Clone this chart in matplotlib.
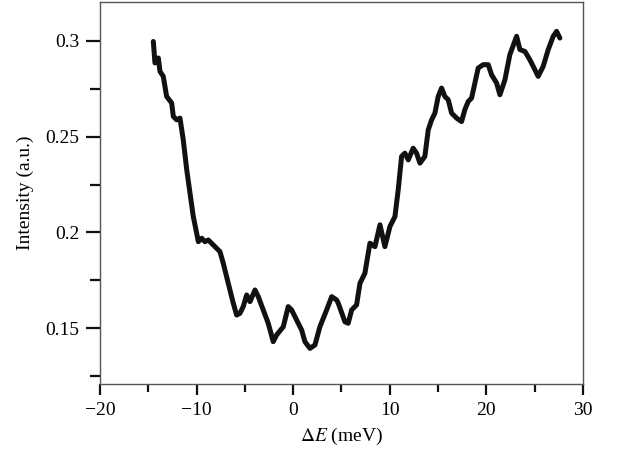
import numpy as np
import matplotlib
matplotlib.use("Agg")
import matplotlib.pyplot as plt
from matplotlib.ticker import MultipleLocator

# Energy transfer (meV) and intensity (a.u.)
delta_e = [-14.48, -14.31, -13.96, -13.79, -13.45, -13.10, -12.58, -12.41, -12.06, -11.72,
           -11.38, -11.02, -10.68, -10.34, -9.99, -9.82, -9.47, -9.13, -8.79, -8.27,
           -7.58, -7.24, -6.72, -6.20, -5.85, -5.51, -5.17, -4.81, -4.47, -3.95,
           -3.61, -3.10, -2.58, -2.06, -1.71, -1.02, -0.51, -0.16, 0.36, 0.88,
           1.22, 1.74, 2.26, 2.77, 3.47, 3.99, 4.50, 4.67, 5.36, 5.70,
           6.06, 6.57, 6.92, 7.43, 7.95, 8.47, 8.99, 9.50, 10.02, 10.54,
           10.88, 11.23, 11.57, 11.92, 12.43, 12.78, 13.13, 13.64, 13.99, 14.34,
           14.68, 15.02, 15.37, 15.71, 16.06, 16.41, 16.93, 17.44, 17.78, 18.13,
           18.48, 18.82, 19.16, 19.68, 20.20, 20.55, 21.07, 21.41, 21.93, 22.44,
           23.14, 23.48, 24.00, 24.51, 25.03, 25.37, 25.89, 26.41, 26.93, 27.28,
           27.62]
intensity = [0.2997, 0.2885, 0.2911, 0.2841, 0.2815, 0.2710, 0.2676, 0.2606, 0.2588, 0.2597,
             0.2484, 0.2327, 0.2205, 0.2083, 0.1996, 0.1952, 0.1970, 0.1952, 0.1961, 0.1935,
             0.1900, 0.1840, 0.1735, 0.1631, 0.1569, 0.1578, 0.1613, 0.1674, 0.1639, 0.1700,
             0.1665, 0.1596, 0.1526, 0.1430, 0.1465, 0.1508, 0.1613, 0.1596, 0.1543, 0.1491,
             0.1430, 0.1395, 0.1413, 0.1508, 0.1596, 0.1665, 0.1648, 0.1631, 0.1534, 0.1526,
             0.1596, 0.1622, 0.1735, 0.1787, 0.1944, 0.1926, 0.2040, 0.1926, 0.2031, 0.2083,
             0.2223, 0.2397, 0.2414, 0.2379, 0.2440, 0.2414, 0.2362, 0.2397, 0.2536, 0.2588,
             0.2623, 0.2710, 0.2754, 0.2710, 0.2693, 0.2623, 0.2597, 0.2579, 0.2641, 0.2684,
             0.2702, 0.2780, 0.2858, 0.2876, 0.2876, 0.2823, 0.2780, 0.2719, 0.2797, 0.2928,
             0.3024, 0.2955, 0.2945, 0.2902, 0.2850, 0.2815, 0.2867, 0.2954, 0.3024, 0.3050,
             0.3015]

x_ticks = [-20, -10, 0, 10, 20, 30]
y_ticks = [0.15, 0.2, 0.25, 0.3]
y_labels = ["0.15", "0.2", "0.25", "0.3"]

plt.rcParams["font.family"] = ["Liberation Serif", "DejaVu Serif"]
plt.rcParams["mathtext.fontset"] = "stix"

fig = plt.figure(figsize=(6.37, 4.61), dpi=100)
ax = fig.add_axes([0.157, 0.167, 0.758, 0.829])

ax.plot(delta_e, intensity, color="#111111", lw=3.6, solid_joinstyle="round", solid_capstyle="round")

ax.set_xlim(-20, 30)
ax.set_ylim(0.1209, 0.3204)
ax.set_xticks(x_ticks)
ax.set_yticks(y_ticks)
ax.set_yticklabels(y_labels)
ax.xaxis.set_minor_locator(MultipleLocator(5))
ax.set_yticks([0.125, 0.175, 0.225, 0.275], minor=True)

for s in ax.spines.values():
    s.set_color("#555555")
    s.set_linewidth(1.0)

ax.tick_params(axis="y", which="major", direction="out", length=10, width=1.6, pad=5, labelsize=14, color="#111111")
ax.tick_params(axis="y", which="minor", direction="out", length=7, width=1.6, color="#111111")
ax.tick_params(axis="x", which="major", direction="out", length=8, width=1.6, pad=5, labelsize=14, color="#111111")
ax.tick_params(axis="x", which="minor", direction="out", length=6, width=1.6, color="#111111")

ax.set_xlabel(r"$\Delta E$ (meV)", fontsize=14, labelpad=5)
ax.set_ylabel("Intensity (a.u.)", fontsize=14, labelpad=8)

fig.savefig("out.png", dpi=100)
